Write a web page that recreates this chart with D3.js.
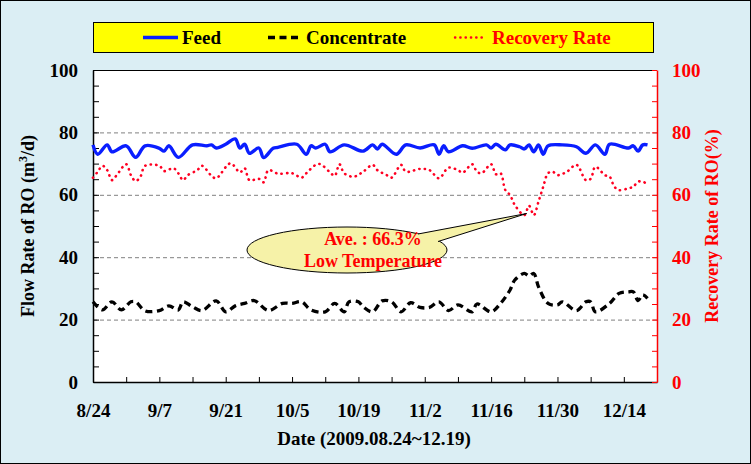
<!DOCTYPE html>
<html>
<head>
<meta charset="utf-8">
<script src="https://cdn.jsdelivr.net/npm/d3@7"></script>
<style>
  body { margin: 0; padding: 0; background: #fff; }
  svg { display: block; }
  text { font-family: "Liberation Serif", "Times New Roman", serif; font-weight: bold; }
</style>
</head>
<body>
<svg id="chart" width="751" height="464"></svg>
<script>
// ---------------- DATA ----------------
// day offsets from 2009-08-24
const feedDays = [0,1,3,4,7,9,11,14,15,16,18,21,24,25,26,28,30,31,32,33,35,36,38,39,43,45,46,47,49,50,53,57,59,60,61,64,66,69,72,73,74,75,78,80,83,84,85,87,88,90,91,92,93,94,95,96,99,102,104,106,108,109,113,114,115,116,117];
const feedValues = [76,73,76,73.8,75.7,72,75.7,74.9,74,75.7,72,76,75.7,76,75,76.2,77.9,75,76.2,73.3,75,71.9,74.9,75.2,76.2,73,75.7,75,76.2,73.8,76,74,76,74.7,76.2,73,76,75,76,73,75.7,73.8,75.7,74.9,76,75,76.2,74.4,76,75.4,74.7,76,73.8,76,73,75.7,76,75.4,73.3,76,73,76.2,75,75.7,74,76,76];

const concDays = [0,2,4,6,8,9,11,14,16,18,19,21,23,26,28,30,32,34,37,40,42,44,46,49,51,53,54,56,57,59,61,63,65,67,69,71,73,75,77,80,81,84,86,88,89,91,92,93,94,96,98,99,102,104,105,106,109,111,113,114,115,116,117];
const concValues = [25.7,23.1,25.7,23.1,25.7,25.7,22.8,22.9,24.4,23.1,25.7,24.1,22.9,26,22.5,24.4,25.2,26.1,22.9,25.2,25.2,25.7,23.1,22.5,25.2,22.5,25.7,25.7,24.1,22.5,26,25.7,22.5,25.4,23.9,23.9,25.7,22.9,24.7,22.5,25,22.5,25.2,29.5,32.7,34.8,34,34.8,30.5,25.2,24.7,25.7,22.9,25.7,25.7,22.5,25.2,28.4,28.9,28.9,26.1,27.9,26.8];

const recDays = [0,1,2,3,4,5,7,8,9,10,11,14,15,17,18,19,20,22,23,25,26,29,31,32,33,35,36,37,39,42,44,45,47,48,50,51,52,53,55,57,59,60,62,63,65,66,69,71,73,75,77,78,80,81,82,84,85,86,87,88,89,91,92,93,94,95,96,97,98,100,102,104,105,106,108,109,110,111,113,114,115,116,117];
const recValues = [65.5,67.4,69.3,67.9,64.7,66.3,69.8,66.3,64.4,65.8,69.3,69.3,67.6,68.5,66.9,64.7,66.3,67.9,69.3,66.1,65.3,70.1,67.2,68.5,64.7,65.1,64,67.9,66.8,66.9,65.5,66.9,69.6,69.8,67.2,66.1,69.8,66.9,65.8,67.4,69.6,67.9,66.3,65.5,69.6,67.4,68.3,67.9,65.3,68.7,67.9,67.1,69.8,67.4,66.9,69.8,66.6,66.9,61.5,59.9,56.7,53.5,56.5,53.5,57.8,62.6,66.9,67.4,66.3,67.4,69.6,64.7,65.1,69,66.3,65.8,62.6,61.5,62.1,62.6,64.2,64.2,63.4];

const xTickLabelDays = [0,14,28,42,56,70,84,98,112];
const xTickLabels = ["8/24","9/7","9/21","10/5","10/19","11/2","11/16","11/30","12/14"];
const yTickLabels = [0,20,40,60,80,100];
const seriesNames = ["Feed","Concentrate","Recovery Rate"];
const calloutLines = ["Ave. : 66.3%","Low Temperature"];
const xTitle = "Date (2009.08.24~12.19)";

// ---------------- LAYOUT ----------------
const W = 751, H = 464;
const L = 93, R = 657, T = 70, B = 382;
const svg = d3.select("#chart");

svg.append("rect").attr("x",0.5).attr("y",0.5).attr("width",W-1).attr("height",H-1)
  .attr("fill","#DBEEF4").attr("stroke","#000").attr("stroke-width",1);
svg.append("rect").attr("x",L).attr("y",T).attr("width",R-L).attr("height",B-T).attr("fill","#fff");

const x = d3.scaleLinear().domain([0,119]).range([L,R]);
const yL = d3.scaleLinear().domain([0,100]).range([B,T]);
const yR = d3.scaleLinear().domain([0,100]).range([B,T]);

// gridlines
svg.append("g").selectAll("line").data([20,40,60,80]).join("line")
  .attr("x1",L).attr("x2",R).attr("y1",d=>yL(d)+0.5).attr("y2",d=>yL(d)+0.5)
  .attr("stroke","#808080").attr("stroke-width",1).attr("stroke-dasharray","4,3");

// top border
svg.append("line").attr("x1",L).attr("x2",R).attr("y1",T+0.5).attr("y2",T+0.5)
  .attr("stroke","#000").attr("stroke-width",1.2);

// axes
const fontSize = 19;
const xAxis = d3.axisBottom(x).tickValues(d3.range(0,120,7))
  .tickSizeInner(-5).tickSizeOuter(0).tickPadding(22)
  .tickFormat(d => { const i = xTickLabelDays.indexOf(d); return i>=0 ? xTickLabels[i] : ""; });
const gx = svg.append("g").attr("transform",`translate(0,${B})`).call(xAxis);
gx.selectAll("text").style("font-size",fontSize+"px").attr("fill","#000");
gx.select(".domain").attr("stroke","#000").attr("stroke-width",1.5);
gx.selectAll(".tick line").attr("stroke","#000");

const yAxisL = d3.axisLeft(yL).tickValues(d3.range(0,101,5))
  .tickSizeInner(-6).tickSizeOuter(0).tickPadding(15)
  .tickFormat(d => yTickLabels.includes(d) ? d : "");
const gyl = svg.append("g").attr("transform",`translate(${L},0)`).call(yAxisL);
gyl.selectAll("text").style("font-size",fontSize+"px").attr("fill","#000");
gyl.select(".domain").attr("stroke","#000").attr("stroke-width",1.5);
gyl.selectAll(".tick line").attr("stroke","#000");

const yAxisR = d3.axisRight(yR).tickValues(d3.range(0,101,5))
  .tickSizeInner(-5).tickSizeOuter(0).tickPadding(15)
  .tickFormat(d => yTickLabels.includes(d) ? d : "");
const gyr = svg.append("g").attr("transform",`translate(${R},0)`).call(yAxisR);
gyr.selectAll("text").style("font-size",fontSize+"px").attr("fill","#FF0000");
gyr.select(".domain").attr("stroke","#FF0000").attr("stroke-width",1.5);
gyr.selectAll(".tick line").attr("stroke","#FF0000");
svg.selectAll(".tick text").style("font-family","'Liberation Serif', serif").style("font-weight","bold");

// axis titles
const lt = svg.append("text").attr("transform",`translate(34,${(T+B)/2}) rotate(-90)`)
  .attr("text-anchor","middle").style("font-size","18px").attr("fill","#000");
lt.append("tspan").text("Flow Rate of RO (m");
lt.append("tspan").attr("dy",-7).style("font-size","12px").text("3");
lt.append("tspan").attr("dy",7).text("/d)");

svg.append("text").attr("transform",`translate(718,${(T+B)/2}) rotate(-90)`)
  .attr("text-anchor","middle").style("font-size","18px").attr("fill","#FF0000")
  .text("Recovery Rate of RO(%)");

svg.append("text").attr("x",374).attr("y",445).attr("text-anchor","middle")
  .style("font-size",fontSize+"px").attr("fill","#000").text(xTitle);

// lines
const mk = (days, vals) => days.map((d,i)=>[d, vals[i]]);
const lineL = d3.line().x(d=>x(d[0])).y(d=>yL(d[1])).curve(d3.curveCatmullRom.alpha(0.5));
const lineR = d3.line().x(d=>x(d[0])).y(d=>yR(d[1])).curve(d3.curveCatmullRom.alpha(0.5));

svg.append("path").datum(mk(feedDays,feedValues)).attr("d",lineL)
  .attr("fill","none").attr("stroke","#0A1EFF").attr("stroke-width",3.4).attr("stroke-linejoin","round");
svg.append("path").datum(mk(concDays,concValues)).attr("d",lineL)
  .attr("fill","none").attr("stroke","#000").attr("stroke-width",3.3)
  .attr("stroke-dasharray","7,4.5");
svg.append("path").datum(mk(recDays,recValues)).attr("d",lineR)
  .attr("fill","none").attr("stroke","#FF0022").attr("stroke-width",2.6)
  .attr("stroke-linecap","round").attr("stroke-dasharray","0.3,5.2");

// legend
svg.append("rect").attr("x",93.5).attr("y",22.5).attr("width",560).attr("height",30)
  .attr("fill","#FFFF00").attr("stroke","#000").attr("stroke-width",1);
const legY = 37.5;
const leg = [
  {x1:143,x2:178,tx:182,color:"#0A1EFF",dash:null,w:3.4,cap:"butt",tc:"#000"},
  {x1:268,x2:301,tx:306,color:"#000",dash:"7,4.5",w:3.3,cap:"butt",tc:"#000"},
  {x1:455,x2:486,tx:492,color:"#FF0022",dash:"0.3,5",w:2.4,cap:"round",tc:"#FF0000"}
];
leg.forEach((l,i)=>{
  svg.append("line").attr("x1",l.x1).attr("x2",l.x2).attr("y1",legY).attr("y2",legY)
    .attr("stroke",l.color).attr("stroke-width",l.w).attr("stroke-dasharray",l.dash)
    .attr("stroke-linecap",l.cap);
  svg.append("text").attr("x",l.tx).attr("y",legY+6.5).style("font-size",fontSize+"px")
    .attr("fill",l.tc).text(seriesNames[i]);
});

// callout
const cx = 347, cy = 250, rx = 100, ry = 23;
const g = svg.append("g");
g.append("ellipse").attr("cx",cx).attr("cy",cy).attr("rx",rx).attr("ry",ry)
  .attr("fill","#F6F2A8").attr("stroke","#000").attr("stroke-width",1);
const tip = [x(91.5), yR(54)];
g.append("polygon")
  .attr("points",[[418,234],tip,[465,233],[438,241.5],[400,246]].map(p=>p.join(",")).join(" "))
  .attr("fill","#F6F2A8");
g.append("polyline")
  .attr("points",[[418,234],tip,[465,233],[438,241.5]].map(p=>p.join(",")).join(" "))
  .attr("fill","none").attr("stroke","#000").attr("stroke-width",1);
g.selectAll("text.c").data(calloutLines).join("text").attr("class","c")
  .attr("x",373).attr("y",(d,i)=>245+i*22).attr("text-anchor","middle")
  .style("font-size","18px").attr("fill","#FF0000").text(d=>d);
</script>
</body>
</html>
